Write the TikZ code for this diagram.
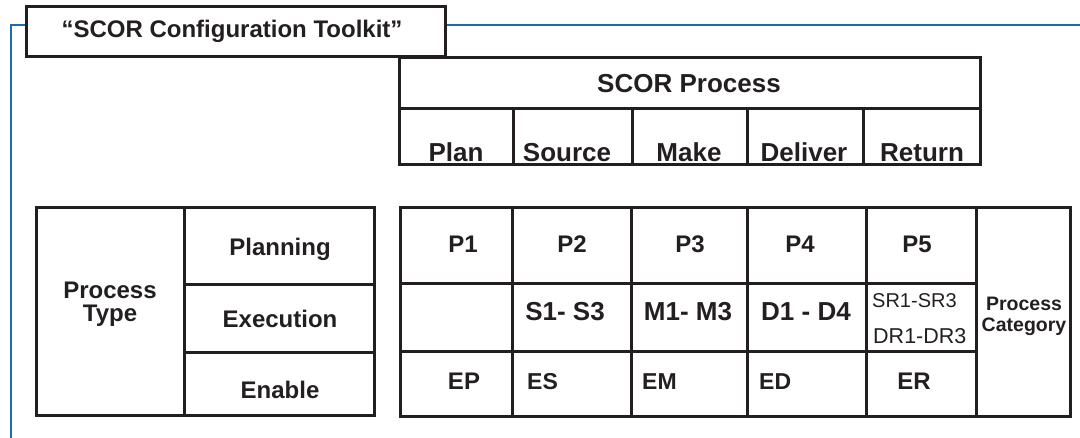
\documentclass[tikz,border=0pt]{standalone}
\usepackage{fontspec}
\setmainfont{Liberation Sans}
\usepackage{tikz}
\definecolor{ink}{HTML}{231F20}
\definecolor{frameblue}{HTML}{1A6DB3}
\newcommand{\fsz}[2]{\fontsize{#1}{#2}\selectfont}

\begin{document}
\begin{tikzpicture}[x=1pt,y=-1pt,every node/.style={inner sep=0pt,text=ink,anchor=base},
	grid/.style={draw=ink,line width=3pt},
	frame/.style={draw=frameblue,line width=2.8pt},
	head/.style={font=\fsz{26}{28}\bfseries},
	rowlab/.style={font=\fsz{24}{26}\bfseries},
	code/.style={font=\fsz{24}{26}\bfseries}]

	\useasboundingbox (0,0) rectangle (1080,438);

	% blue frame and title tab
	\draw[frame] (1080,25) -- (11,25) -- (11,440);
	\draw[grid,fill=white] (26,7) rectangle (445,57);
	\node[font=\fsz{24}{26}\bfseries] (title) at (232,37.5) {``SCOR Configuration Toolkit''};

	% SCOR process header
	\draw[grid] (399,58) rectangle (980,165);
	\draw[grid] (399,109) -- (980,109);
	\foreach \x in {513,632,747,863}
		\draw[grid] (\x,109) -- (\x,165);
	\node[head] (scor) at (689,93) {SCOR Process};
	\node[head] (plan) at (456,162) {Plan};
	\node[head] (source) at (567,162) {Source};
	\node[head] (make) at (689,162) {Make};
	\node[head] (deliver) at (804,162) {Deliver};
	\node[head] (return) at (922,162) {Return};

	% process type table
	\draw[grid] (36,208) rectangle (374,416);
	\draw[grid] (184,208) -- (184,416);
	\draw[grid] (184,285) -- (374,285);
	\draw[grid] (184,353) -- (374,353);
	\node[font=\fsz{24}{23}\bfseries,align=center,anchor=north] (ptype) at (110,282) {Process\\Type};
	\node[rowlab] (planning) at (280,256) {Planning};
	\node[rowlab] (execution) at (280,328) {Execution};
	\node[rowlab] (enable) at (280,399) {Enable};

	% process category table
	\draw[grid] (400,208) rectangle (1070,417);
	\foreach \x in {512,631,747,866,976}
		\draw[grid] (\x,208) -- (\x,417);
	\draw[grid] (400,284) -- (976,284);
	\draw[grid] (400,352) -- (976,352);

	\node[code] (p1) at (463,252.5) {P1};
	\node[code] (p2) at (572,252.5) {P2};
	\node[code] (p3) at (690,252.5) {P3};
	\node[code] (p4) at (800,252.5) {P4};
	\node[code] (p5) at (917,252.5) {P5};

	\node[font=\fsz{26}{28}\bfseries] (s13) at (565,321) {S1- S3};
	\node[font=\fsz{26}{28}\bfseries] (m13) at (688,321) {M1- M3};
	\node[font=\fsz{26}{28}\bfseries] (d14) at (806,321) {D1 - D4};
	\node[font=\fsz{20}{22},anchor=base west] (sr13) at (872,308) {SR1-SR3};
	\node[font=\fsz{21.5}{23},anchor=base west] (dr13) at (873,344) {DR1-DR3};

	\node[code] (ep) at (464,390) {EP};
	\node[font=\fsz{23}{25}\bfseries,anchor=base west] (es) at (527,390) {ES};
	\node[font=\fsz{23}{25}\bfseries,anchor=base west] (em) at (642,390) {EM};
	\node[font=\fsz{23}{25}\bfseries,anchor=base west] (ed) at (759,390) {ED};
	\node[code] (er) at (914,390) {ER};

	\node[font=\fsz{19.5}{21}\bfseries,align=center,anchor=north] (pcat) at (1024,297) {Process\\Category};

\end{tikzpicture}
\end{document}
